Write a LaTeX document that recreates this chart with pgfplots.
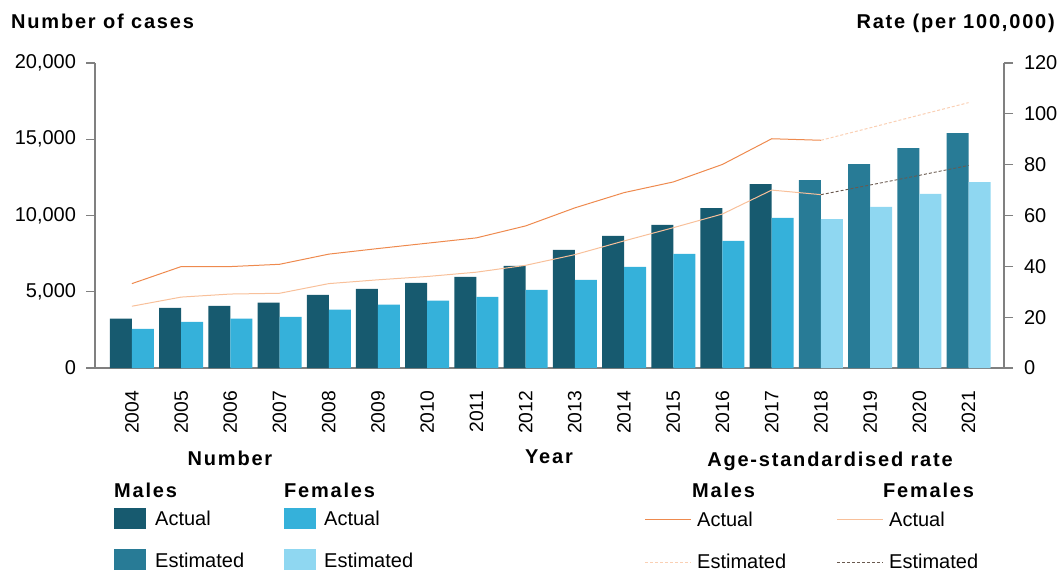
\documentclass[border=0pt]{standalone}
\usepackage{fontspec}
\setmainfont{Liberation Sans}
\newfontfamily\tfont{Liberation Sans}[LetterSpace=9]
\usepackage{pgfplots}
\pgfplotsset{compat=1.18}
\definecolor{mact}{HTML}{175A6F}
\definecolor{fact}{HTML}{35B1DA}
\definecolor{mest}{HTML}{287B96}
\definecolor{fest}{HTML}{8FD7F1}
\definecolor{lmact}{HTML}{EE8A4E}
\definecolor{lfact}{HTML}{F8C09A}
\definecolor{lmest}{HTML}{FAD0B4}
\definecolor{lfest}{HTML}{6A5A50}
\definecolor{axgray}{HTML}{808080}
\newcommand{\fs}{\fontsize{20}{24}\selectfont}
\newcommand{\fx}{\fontsize{19.3}{23}\selectfont}
\begin{document}
\begin{tikzpicture}
\path (0pt,0pt) rectangle (1061pt,571pt);
\begin{axis}[
  at={(95pt,203pt)}, anchor=south west, scale only axis,
  width=909pt, height=305pt,
  xmin=-0.75, xmax=17.72, ymin=0, ymax=20000,
  axis x line*=bottom, axis y line*=left,
  axis line style={axgray, line width=1.5pt},
  xtick={0,...,17},
  xticklabels={2004,2005,2006,2007,2008,2009,2010,2011,2012,2013,2014,2015,2016,2017,2018,2019,2020,2021},
  xtick style={draw=none},
  xticklabel style={rotate=90, anchor=east, inner sep=0pt, outer xsep=14pt, font=\fx},
  scaled y ticks=false,
  ytick={0,5000,10000,15000,20000},
  yticklabels={0,{5,000},{10,000},{15,000},{20,000}},
  ytick style={axgray, line width=1.2pt},
  tick align=outside, major tick length=9pt,
  yticklabel style={anchor=east, inner sep=0pt, outer xsep=10pt, font=\fs},
  /pgf/number format/assume math mode=true,
]
\addplot[ybar, fill=mact, draw=none, bar width=0.447, bar shift=-0.2235] coordinates {
(0,3230) (1,3950) (2,4080) (3,4280) (4,4800) (5,5190) (6,5580) (7,5980) (8,6700) (9,7740) (10,8660) (11,9380) (12,10490) (13,12060)};
\addplot[ybar, fill=fact, draw=none, bar width=0.447, bar shift=0.2235] coordinates {
(0,2570) (1,3030) (2,3230) (3,3360) (4,3820) (5,4150) (6,4410) (7,4670) (8,5130) (9,5780) (10,6630) (11,7480) (12,8330) (13,9840)};
\addplot[ybar, fill=mest, draw=none, bar width=0.447, bar shift=-0.2235] coordinates {
(14,12320) (15,13370) (16,14420) (17,15400)};
\addplot[ybar, fill=fest, draw=none, bar width=0.447, bar shift=0.2235] coordinates {
(14,9770) (15,10560) (16,11410) (17,12190)};
\end{axis}
\begin{axis}[
  at={(95pt,203pt)}, anchor=south west, scale only axis,
  width=909pt, height=305pt,
  xmin=-0.75, xmax=17.72, ymin=0, ymax=120,
  axis x line=none, axis y line*=right,
  axis line style={axgray, line width=1.5pt},
  ytick={0,20,40,60,80,100,120},
  ytick style={axgray, line width=1.2pt},
  tick align=outside, major tick length=9pt,
  yticklabel style={anchor=west, inner sep=0pt, outer xsep=11pt, font=\fs},
  /pgf/number format/assume math mode=true,
]
\addplot[lmact, line width=1pt, no marks] coordinates {
(0,33.2) (1,39.9) (2,39.9) (3,40.8) (4,44.8) (5,47.0) (6,49.1) (7,51.2) (8,55.9) (9,63.0) (10,69.0) (11,73.2) (12,80.1) (13,90.2) (14,89.6)};
\addplot[lfact, line width=1pt, no marks] coordinates {
(0,24.3) (1,27.9) (2,29.1) (3,29.4) (4,33.2) (5,34.7) (6,36.0) (7,37.7) (8,40.4) (9,44.6) (10,50.0) (11,55.2) (12,60.6) (13,70.0) (14,68.2)};
\addplot[lmest, line width=1pt, no marks, dash pattern=on 3pt off 2pt] coordinates {
(14,89.6) (15,94.5) (16,99.5) (17,104.4)};
\addplot[lfest, line width=0.9pt, no marks, dash pattern=on 3pt off 2pt] coordinates {
(14,68.2) (15,72.0) (16,75.8) (17,79.7)};
\end{axis}
% titles
\node[anchor=base west, inner sep=0pt, font=\fs\tfont\bfseries] at (11pt,542pt) {Number of cases};
\node[anchor=base east, inner sep=0pt, font=\fs\tfont\bfseries] at (1055pt,542pt) {Rate (per 100,000)};
\node[anchor=base, inner sep=0pt, font=\fs\tfont\bfseries] at (549pt,107pt) {Year};
\node[anchor=base, inner sep=0pt, font=\fs\tfont\bfseries] at (230pt,106pt) {Number};
\node[anchor=base, inner sep=0pt, font=\fs\tfont\bfseries] at (830pt,105pt) {Age-standardised rate};
% number legend
\node[anchor=base west, inner sep=0pt, font=\fs\tfont\bfseries] at (114pt,74pt) {Males};
\node[anchor=base west, inner sep=0pt, font=\fs\tfont\bfseries] at (284pt,74pt) {Females};
\fill[mact] (114pt,42pt) rectangle (146pt,63pt);
\fill[mest] (114pt,1pt) rectangle (146pt,22pt);
\fill[fact] (284pt,42pt) rectangle (316pt,63pt);
\fill[fest] (284pt,1pt) rectangle (316pt,22pt);
\node[anchor=base west, inner sep=0pt, font=\fs] at (155pt,46pt) {Actual};
\node[anchor=base west, inner sep=0pt, font=\fs] at (155pt,4pt) {Estimated};
\node[anchor=base west, inner sep=0pt, font=\fs] at (324pt,46pt) {Actual};
\node[anchor=base west, inner sep=0pt, font=\fs] at (324pt,4pt) {Estimated};
% rate legend
\node[anchor=base west, inner sep=0pt, font=\fs\tfont\bfseries] at (692pt,74pt) {Males};
\node[anchor=base west, inner sep=0pt, font=\fs\tfont\bfseries] at (883pt,74pt) {Females};
\draw[lmact, line width=1pt] (645pt,52pt) -- (691pt,52pt);
\draw[lfact, line width=1pt] (837pt,52pt) -- (883pt,52pt);
\draw[lmest, line width=1pt, dash pattern=on 3pt off 2pt] (645pt,9pt) -- (691pt,9pt);
\draw[lfest, line width=0.9pt, dash pattern=on 3pt off 2pt] (837pt,9pt) -- (883pt,9pt);
\node[anchor=base west, inner sep=0pt, font=\fs] at (697pt,45pt) {Actual};
\node[anchor=base west, inner sep=0pt, font=\fs] at (697pt,3pt) {Estimated};
\node[anchor=base west, inner sep=0pt, font=\fs] at (889pt,45pt) {Actual};
\node[anchor=base west, inner sep=0pt, font=\fs] at (889pt,3pt) {Estimated};
\end{tikzpicture}
\end{document}
